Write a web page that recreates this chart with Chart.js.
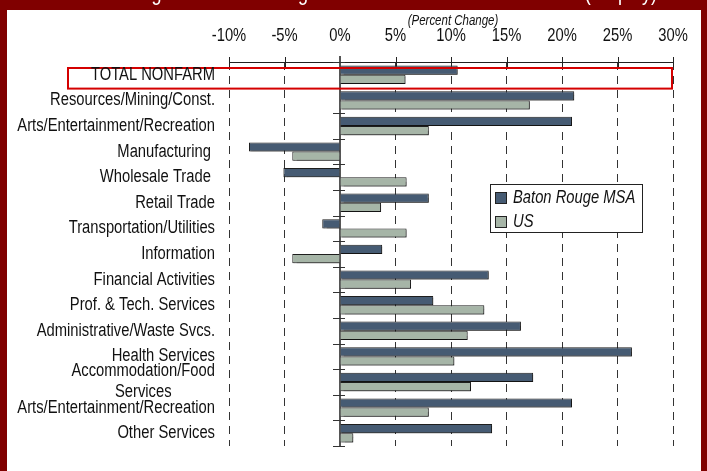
<!DOCTYPE html>
<html>
<head>
<meta charset="utf-8">
<script src="https://cdn.jsdelivr.net/npm/chart.js@4/dist/chart.umd.min.js"></script>
<style>
  html, body { margin: 0; padding: 0; background: #fff; }
  #wrap { width: 707px; height: 471px; position: relative; }
</style>
</head>
<body>
<div id="wrap"><canvas id="chart" width="707" height="471"></canvas></div>
<script>
const categories = [
  'TOTAL NONFARM',
  'Resources/Mining/Const.',
  'Arts/Entertainment/Recreation',
  'Manufacturing ',
  'Wholesale Trade ',
  'Retail Trade',
  'Transportation/Utilities',
  'Information',
  'Financial Activities',
  'Prof. & Tech. Services',
  'Administrative/Waste Svcs.',
  'Health Services',
  ['Accommodation/Food', 'Services'],
  'Arts/Entertainment/Recreation',
  'Other Services'
];
const batonRouge = [10.6, 21.1, 20.9, -8.2, -5.1, 8.0, -1.6, 3.8, 13.4, 8.4, 16.3, 26.3, 17.4, 20.9, 13.7];
const usValues = [5.9, 17.1, 8.0, -4.3, 6.0, 3.7, 6.0, -4.3, 6.4, 13.0, 11.5, 10.3, 11.8, 8.0, 1.2];
const xTicks = [-10, -5, 0, 5, 10, 15, 20, 25, 30];

const FONT = "'Liberation Sans', Arial, sans-serif";
const NARROW = 0.82; // squeeze Liberation Sans into a narrow face
const BLUE = '#465b73';
const SAGE = '#a6b5a7';
const EDGE = '#1e1e1e';
const INK = '#111';

function narrowText(ctx, text, x, y, align, size, italic) {
  ctx.save();
  ctx.font = (italic ? 'italic ' : '') + size + 'px ' + FONT;
  ctx.textAlign = align;
  ctx.textBaseline = 'middle';
  ctx.translate(x, y);
  ctx.scale(NARROW, 1);
  ctx.fillText(text, 0, 0);
  ctx.restore();
}

function narrowWidth(ctx, text, size) {
  ctx.save();
  ctx.font = size + 'px ' + FONT;
  const w = ctx.measureText(text).width * NARROW;
  ctx.restore();
  return w;
}

// maroon frame and the heading that runs off the top edge
const framePlugin = {
  id: 'frame',
  afterDraw(chart) {
    const ctx = chart.ctx;
    ctx.save();
    ctx.fillStyle = '#800000';
    ctx.fillRect(0, 0, 707, 10);
    ctx.fillRect(0, 0, 7, 471);
    ctx.fillRect(701, 0, 6, 471);
    ctx.fillStyle = '#fff';
    ctx.font = '22px ' + FONT;
    ctx.textAlign = 'right';
    ctx.textBaseline = 'alphabetic';
    ctx.translate(657, 0);
    ctx.scale(NARROW, 1);
    ctx.fillText('Baton Rouge MSA Job Change Rates Versus the National Level (Employ)', 0, 0);
    ctx.restore();
  }
};

// axis text: category labels on the left, percent labels and caption on top
const labelPlugin = {
  id: 'axisText',
  afterDraw(chart) {
    const ctx = chart.ctx;
    const x = chart.scales.x;
    const y = chart.scales.y;
    const { left, right, top } = chart.chartArea;
    const xr = left - 14;
    ctx.save();
    ctx.fillStyle = INK;
    categories.forEach((lab, i) => {
      const lines = Array.isArray(lab) ? lab : [lab];
      const cy = y.getPixelForValue(i);
      if (lines.length === 1) {
        narrowText(ctx, lines[0], xr, cy, 'right', 18, false);
        return;
      }
      const w = Math.max(...lines.map(l => narrowWidth(ctx, l, 18)));
      lines.forEach((l, k) => {
        narrowText(ctx, l, xr - w / 2, cy + (k - (lines.length - 1) / 2) * 21, 'center', 18, false);
      });
    });
    xTicks.forEach(v => {
      narrowText(ctx, v + '%', x.getPixelForValue(v), top - 26, 'center', 18, false);
    });
    narrowText(ctx, '(Percent Change)', (left + right) / 2 + 2, 21.5, 'center', 14, true);
    ctx.restore();
  }
};

// top value axis, the zero line with its row ticks, the highlight box and the legend
const axisPlugin = {
  id: 'axisBits',
  beforeDatasetsDraw(chart) {
    const ctx = chart.ctx;
    const { top, bottom, left, right } = chart.chartArea;
    const x = chart.scales.x;
    ctx.save();
    ctx.strokeStyle = '#222';
    ctx.lineWidth = 1;
    ctx.beginPath();
    ctx.moveTo(left, top + 0.5);
    ctx.lineTo(right, top + 0.5);
    xTicks.forEach(v => {
      const px = Math.round(x.getPixelForValue(v)) + 0.5;
      ctx.moveTo(px, top - 5);
      ctx.lineTo(px, top + 5);
    });
    ctx.stroke();

    const x0 = Math.round(x.getPixelForValue(0));
    ctx.strokeStyle = '#555';
    ctx.lineWidth = 2;
    ctx.beginPath();
    ctx.moveTo(x0, top - 6);
    ctx.lineTo(x0, bottom);
    ctx.stroke();

    const step = (bottom - top) / categories.length;
    ctx.strokeStyle = '#333';
    ctx.lineWidth = 1;
    ctx.beginPath();
    for (let i = 0; i <= categories.length; i++) {
      const py = Math.round(top + i * step) + 0.5;
      ctx.moveTo(x0 - 7, py);
      ctx.lineTo(x0 + 5, py);
    }
    ctx.stroke();
    ctx.restore();

    // soft drop shadow under the bars
    ctx.save();
    ctx.shadowColor = 'rgba(0,0,0,0.35)';
    ctx.shadowOffsetX = 1.5;
    ctx.shadowOffsetY = 1.5;
    ctx.shadowBlur = 1;
  },
  afterDatasetsDraw(chart) {
    const ctx = chart.ctx;
    ctx.restore();
    const { right } = chart.chartArea;
    const y = chart.scales.y;
    const step = y.getPixelForValue(1) - y.getPixelForValue(0);
    const cy = y.getPixelForValue(0);
    ctx.save();
    ctx.strokeStyle = '#d40000';
    ctx.lineWidth = 2;
    ctx.strokeRect(68, cy - step / 2 + 6, right - 1 - 68, step - 5);
    ctx.restore();

    ctx.save();
    ctx.fillStyle = '#fff';
    ctx.strokeStyle = '#222';
    ctx.lineWidth = 1;
    ctx.fillRect(490, 184, 152, 49);
    ctx.strokeRect(490.5, 184.5, 152, 48);
    chart.data.datasets.forEach((ds, i) => {
      const ry = 198 + i * 24;
      ctx.fillStyle = ds.backgroundColor;
      ctx.fillRect(495.5, ry - 5.5, 11, 11);
      ctx.strokeRect(495.5, ry - 5.5, 11, 11);
      ctx.fillStyle = INK;
      narrowText(ctx, ds.label, 513, ry, 'left', 18, true);
    });
    ctx.restore();
  }
};

new Chart(document.getElementById('chart'), {
  type: 'bar',
  data: {
    labels: categories,
    datasets: [
      { label: 'Baton Rouge MSA', data: batonRouge, backgroundColor: BLUE, borderColor: EDGE, borderWidth: 1 },
      { label: 'US', data: usValues, backgroundColor: SAGE, borderColor: EDGE, borderWidth: 1 }
    ]
  },
  options: {
    indexAxis: 'y',
    responsive: false,
    animation: false,
    events: [],
    layout: { padding: { left: 0, right: 34, top: 0, bottom: 25 } },
    datasets: { bar: { categoryPercentage: 0.72, barPercentage: 1 } },
    plugins: { legend: { display: false }, tooltip: { enabled: false } },
    scales: {
      x: {
        position: 'top',
        min: -10,
        max: 30,
        afterBuildTicks: s => { s.ticks = xTicks.map(v => ({ value: v })); },
        afterFit: s => { s.height = 62; },
        ticks: { display: false },
        grid: {
          drawTicks: false,
          color: c => (c.tick && c.tick.value === 0) ? 'rgba(0,0,0,0)' : '#333',
          lineWidth: 1
        },
        border: { display: false, dash: [8, 6] }
      },
      y: {
        afterFit: s => { s.width = 229; },
        ticks: { display: false },
        grid: { display: false },
        border: { display: false }
      }
    }
  },
  plugins: [axisPlugin, labelPlugin, framePlugin]
});
</script>
</body>
</html>
